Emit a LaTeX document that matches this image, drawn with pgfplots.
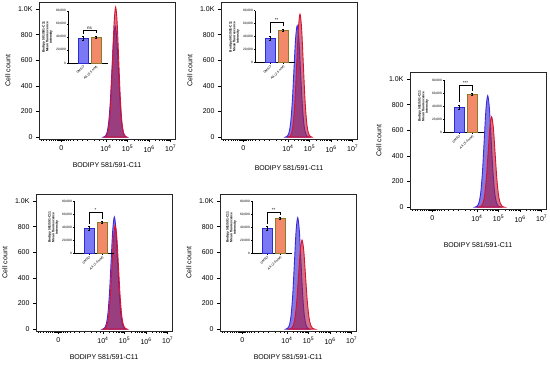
\documentclass[border=0pt]{standalone}
\usepackage{pgfplots}
\pgfplotsset{compat=1.18}
\usepackage{fontspec}
\setmainfont{Liberation Sans}
\definecolor{hblue}{HTML}{3A2BE0}
\definecolor{hbluefill}{HTML}{5040D0}
\definecolor{hred}{HTML}{E0102A}
\definecolor{hredfill}{HTML}{A81840}
\definecolor{bblue}{HTML}{7A78F5}
\definecolor{bblueedge}{HTML}{2B2BD0}
\definecolor{borange}{HTML}{F28A6A}
\definecolor{borangeedge}{HTML}{8C7A2A}
\pgfplotsset{
 hist/.style={
  scale only axis, width=136pt, height=137pt,
  xmin=0.9, xmax=7.2, ymin=-15, ymax=1055,
  xtick={1.93,4,5,6,7},
  xticklabels={0,10\textsuperscript{4},10\textsuperscript{5},10\textsuperscript{6},10\textsuperscript{7}},
  minor xtick={1.0,1.12,1.24,1.36,1.48,1.58,1.66,1.73,1.79,1.84,1.88,1.91,1.95,1.99,2.03,2.08,2.15,2.24,2.36,2.5,2.68,2.9,3.15,3.45,3.7,3.88,4.301,4.477,4.602,4.699,4.778,4.845,4.903,4.954,5.301,5.477,5.602,5.699,5.778,5.845,5.903,5.954,6.301,6.477,6.602,6.699,6.778,6.845,6.903,6.954},
  ytick={0,200,400,600,800,1000}, yticklabels={0,200,400,600,800,1.0K},
  tick align=outside, tick pos=left,
  major tick length=3pt, minor tick length=1.8pt,
  every tick/.style={black, line width=0.5pt},
  ticklabel style={font=\fontsize{7}{8}\selectfont},
  label style={font=\fontsize{7}{8}\selectfont},
  xlabel={BODIPY 581/591-C11}, ylabel={Cell count},
  ylabel style={at={(axis description cs:-0.228,0.5)}, anchor=center},
  xlabel style={at={(axis description cs:0.5,-0.19)}, anchor=center},
  axis line style={line width=0.5pt, black!85},
 },
 bl/.style={draw=hblue, line width=0.9pt, fill=hbluefill, fill opacity=0.7, smooth},
 rd/.style={draw=hred, line width=0.9pt, fill=hredfill, fill opacity=0.6, smooth},
 inset/.style={
  scale only axis, width=40pt, height=52pt,
  xmin=-0.154, xmax=2.92, ymin=0, ymax=80000,
  axis x line=bottom, axis y line=left, axis line style={-, line width=0.5pt, black},
  xtick={1,2}, ytick={0,20000,40000,60000,80000},
  yticklabels={0,{20,000},{40,000},{60,000},{80,000}},
  scaled y ticks=false,
  tick align=outside, major tick length=1.2pt,
  every tick/.style={black, line width=0.4pt},
  ticklabel style={font=\fontsize{3.2}{3.6}\selectfont, inner sep=0.8pt},
  xticklabel style={rotate=45, anchor=north east},
  ylabel={Bodipy 581/591-C11\\Mean fluorescence\\intensity},
  ylabel style={font=\fontsize{3.3}{3.7}\selectfont\bfseries, align=center, yshift=-1pt},
  clip=false,
 },
 bb/.style={ybar, bar width=9.5pt, bar shift=0pt, fill=bblue, draw=bblueedge, line width=0.5pt,
   error bars/.cd, y dir=both, y explicit, error bar style={line width=0.4pt, black}, error mark options={rotate=90, mark size=1pt, line width=0.4pt}},
 bo/.style={ybar, bar width=9.5pt, bar shift=0pt, fill=borange, draw=borangeedge, line width=0.5pt,
   error bars/.cd, y dir=both, y explicit, error bar style={line width=0.4pt, black}, error mark options={rotate=90, mark size=1pt, line width=0.4pt}},
 br/.style={black, line width=0.4pt, no markers, sharp plot},
}
\newcommand{\sig}{\fontsize{4.5}{5}\selectfont}
\begin{document}
\begin{tikzpicture}
\path[use as bounding box] (0,0) rectangle (550pt,365pt);
% Panel 1
\begin{axis}[hist, at={(39pt,226pt)}, anchor=south west]
\addplot[bl] coordinates {(3.89,0)(3.98,9.5)(4.055,38)(4.13,117)(4.205,281)(4.28,525)(4.355,763)(4.43,865)(4.505,763)(4.58,525)(4.655,281)(4.73,117)(4.805,38)(4.88,9.5)(4.97,0)} \closedcycle;
\addplot[rd] coordinates {(3.95,0)(4.03,11)(4.10,45)(4.17,137)(4.24,330)(4.31,616)(4.38,895)(4.45,1015)(4.52,895)(4.59,616)(4.66,330)(4.73,137)(4.80,45)(4.87,11)(4.95,0)} \closedcycle;
\end{axis}
% Panel 2
\begin{axis}[hist, at={(221pt,226pt)}, anchor=south west, xlabel style={at={(axis description cs:0.5,-0.21)}}]
\addplot[bl] coordinates {(3.89,0)(3.98,9.6)(4.055,38)(4.13,117)(4.205,283)(4.28,528)(4.355,767)(4.43,870)(4.505,767)(4.58,528)(4.655,283)(4.73,117)(4.805,38)(4.88,9.6)(4.97,0)} \closedcycle;
\addplot[rd] coordinates {(4.02,0)(4.11,10.6)(4.185,42)(4.26,130)(4.335,312)(4.41,583)(4.485,847)(4.56,960)(4.635,847)(4.71,583)(4.785,312)(4.86,130)(4.935,42)(5.01,10.6)(5.10,0)} \closedcycle;
\end{axis}
% Panel 3
\begin{axis}[hist, at={(410pt,156pt)}, anchor=south west, xlabel style={at={(axis description cs:0.5,-0.263)}}]
\addplot[bl] coordinates {(3.92,0)(4.02,9.6)(4.10,38)(4.18,117)(4.26,283)(4.34,528)(4.42,767)(4.50,870)(4.58,767)(4.66,528)(4.74,283)(4.82,117)(4.90,38)(4.98,9.6)(5.08,0)} \closedcycle;
\addplot[rd] coordinates {(4.10,0)(4.20,7.8)(4.28,31)(4.36,95)(4.44,229)(4.52,428)(4.60,622)(4.68,705)(4.76,622)(4.84,428)(4.92,229)(5.00,95)(5.08,31)(5.16,7.8)(5.26,0)} \closedcycle;
\end{axis}
% Panel 4
\begin{axis}[hist, at={(36pt,34pt)}, anchor=south west]
\addplot[bl] coordinates {(3.99,0)(4.08,9.6)(4.155,38.5)(4.23,118)(4.305,284)(4.38,531)(4.455,772)(4.53,875)(4.605,772)(4.68,531)(4.755,284)(4.83,118)(4.905,38.5)(4.98,9.6)(5.07,0)} \closedcycle;
\addplot[rd] coordinates {(4.03,0)(4.12,8.9)(4.195,35.6)(4.27,109)(4.345,263)(4.42,492)(4.495,714)(4.57,810)(4.645,714)(4.72,492)(4.795,263)(4.87,109)(4.945,35.6)(5.02,8.9)(5.11,0)} \closedcycle;
\end{axis}
% Panel 5
\begin{axis}[hist, at={(220pt,34pt)}, anchor=south west]
\addplot[bl] coordinates {(3.96,0)(4.05,9.6)(4.125,38)(4.20,117)(4.275,283)(4.35,528)(4.425,767)(4.50,870)(4.575,767)(4.65,528)(4.725,283)(4.80,117)(4.875,38)(4.95,9.6)(5.04,0)} \closedcycle;
\addplot[rd] coordinates {(4.12,0)(4.22,7.6)(4.30,30.6)(4.38,94)(4.46,226)(4.54,422)(4.62,613)(4.70,695)(4.78,613)(4.86,422)(4.94,226)(5.02,94)(5.10,30.6)(5.18,7.6)(5.28,0)} \closedcycle;
\end{axis}
% Inset 1
\begin{axis}[inset, at={(68pt,302pt)}, anchor=south west, xticklabels={DMSO,AA (0.5 mM)}]
\addplot[bb] coordinates {(1,37700) +- (0,3000)};
\addplot[bo] coordinates {(2,40000) +- (0,1500)};
\addplot[br] coordinates {(1,45000)(1,50000)(2,50000)(2,46000)};
\node[font=\sig, above, inner sep=0.8pt] at (axis cs:1.5,50000) {ns};
\end{axis}
% Inset 2
\begin{axis}[inset, at={(255pt,302.3pt)}, anchor=south west, xticklabels={DMSO,AA (2.5 mM)}]
\addplot[bb] coordinates {(1,37700) +- (0,3000)};
\addplot[bo] coordinates {(2,50600) +- (0,1500)};
\addplot[br] coordinates {(1,45000)(1,62000)(2,62000)(2,56000)};
\node[font=\sig, above, inner sep=0.5pt] at (axis cs:1.5,62000) {**};
\end{axis}
% Inset 3
\begin{axis}[inset, at={(444pt,232.7pt)}, anchor=south west, xticklabels={DMSO,AA (5.0 mM)}]
\addplot[bb] coordinates {(1,38700) +- (0,3000)};
\addplot[bo] coordinates {(2,58800) +- (0,1500)};
\addplot[br] coordinates {(1,46000)(1,73000)(2,73000)(2,64000)};
\node[font=\sig, above, inner sep=0.5pt] at (axis cs:1.5,73000) {***};
\end{axis}
% Inset 4
\begin{axis}[inset, at={(74pt,111.7pt)}, anchor=south west, xticklabels={DMSO,AA (1.0 mM)}]
\addplot[bb] coordinates {(1,38000) +- (0,3000)};
\addplot[bo] coordinates {(2,47400) +- (0,1500)};
\addplot[br] coordinates {(1,45000)(1,63000)(2,63000)(2,53000)};
\node[font=\sig, above, inner sep=0.5pt] at (axis cs:1.5,63000) {*};
\end{axis}
% Inset 5
\begin{axis}[inset, at={(252pt,111.7pt)}, anchor=south west, xticklabels={DMSO,AA (2.0 mM)}]
\addplot[bb] coordinates {(1,38400) +- (0,3000)};
\addplot[bo] coordinates {(2,54500) +- (0,1500)};
\addplot[br] coordinates {(1,45000)(1,63000)(2,63000)(2,59000)};
\node[font=\sig, above, inner sep=0.5pt] at (axis cs:1.5,63000) {**};
\end{axis}
\end{tikzpicture}
\end{document}
